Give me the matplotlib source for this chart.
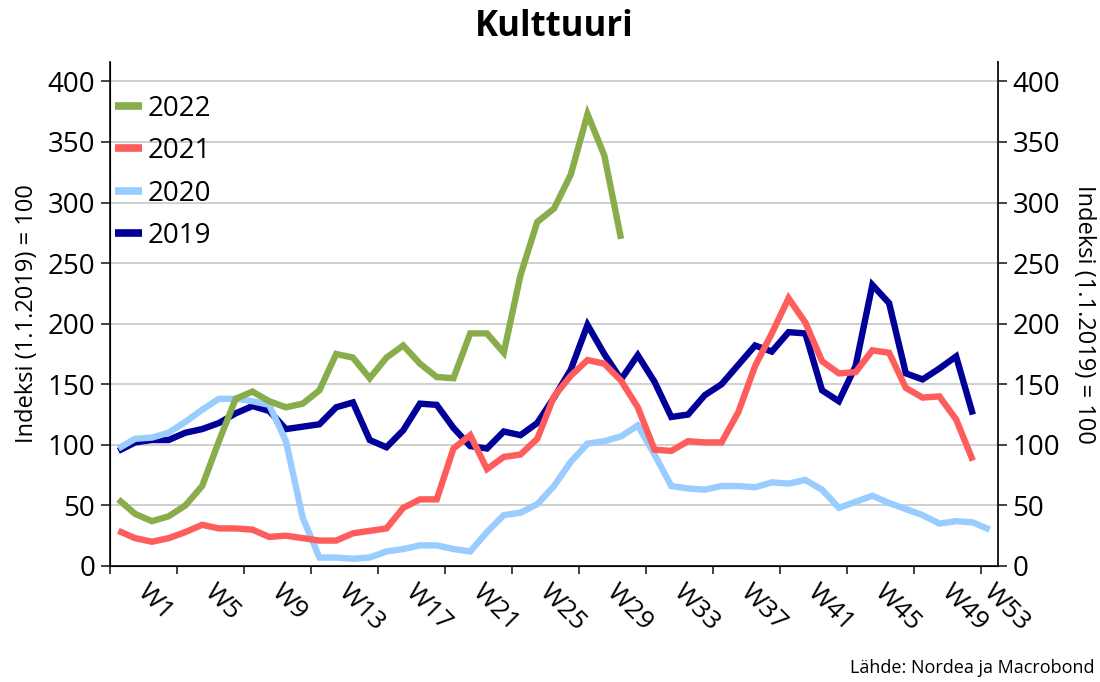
import matplotlib
matplotlib.use("Agg")
import matplotlib.pyplot as plt
from matplotlib.lines import Line2D

plt.rcParams['font.family'] = ['Open Sans', 'Noto Sans', 'DejaVu Sans']

# ---- data ----
y2019 = [95, 102, 104, 104, 110, 113, 118, 126, 132, 128, 113, 115, 117, 131, 135, 104,
         98, 112, 134, 133, 114, 99, 97, 111, 108, 118, 139, 162, 199, 175, 154, 174,
         152, 123, 125, 141, 150, 166, 182, 177, 193, 192, 145, 136, 165, 232, 217, 159,
         154, 163, 173, 125]
y2020 = [97, 105, 106, 110, 119, 129, 138, 138, 136, 133, 103, 40, 7, 7, 6, 7,
         12, 14, 17, 17, 14, 12, 28, 42, 44, 51, 66, 86, 101, 103, 107, 116,
         92, 66, 64, 63, 66, 66, 65, 69, 68, 71, 63, 48, 53, 58, 52, 47,
         42, 35, 37, 36, 30]
y2021 = [29, 23, 20, 23, 28, 34, 31, 31, 30, 24, 25, 23, 21, 21, 27, 29,
         31, 48, 55, 55, 97, 108, 80, 90, 92, 105, 140, 157, 170, 167, 153, 131,
         96, 95, 103, 102, 102, 127, 165, 192, 221, 201, 169, 159, 160, 178, 176, 147,
         139, 140, 121, 87]
y2022 = [55, 43, 37, 41, 50, 66, 103, 138, 144, 136, 131, 134, 145, 175, 172, 155,
         172, 182, 167, 156, 155, 192, 192, 176, 240, 284, 295, 323, 373, 339, 270]

series = [("2022", y2022, "#8aad4b"),
          ("2021", y2021, "#ff5c5c"),
          ("2020", y2020, "#99ccff"),
          ("2019", y2019, "#000099")]

week_labels = ["W1", "W5", "W9", "W13", "W17", "W21", "W25", "W29", "W33",
               "W37", "W41", "W45", "W49", "W53"]
label_pos = [1.9 + 4 * k for k in range(13)] + [52.4]
yticks = list(range(0, 401, 50))

# ---- figure ----
fig = plt.figure(figsize=(11, 6.82), dpi=100)
ax = fig.add_axes([110 / 1100, 1 - 566 / 682, 888 / 1100, 504 / 682])

for name, vals, col in series[::-1]:
    ax.plot(range(len(vals)), vals, color=col, lw=4.6, solid_joinstyle='miter',
            solid_capstyle='butt', zorder=3)

ax.set_xlim(-0.5, 52.5)
ax.set_ylim(0, 416)
ax.set_yticks(yticks)
ax.grid(axis='y', color='#cccccc', lw=1.3, zorder=0)
ax.set_axisbelow(True)
ax.set_xticks([-0.5 + 4 * k for k in range(14)])
ax.set_xticklabels([])
ax.tick_params(axis='x', direction='out', length=6, width=1.2, color='#222222')
ax.tick_params(axis='y', direction='out', length=6.5, width=1.2, color='#222222',
               labelsize=20, pad=4)
ax.spines['top'].set_visible(False)
for s in ['left', 'bottom', 'right']:
    ax.spines[s].set_linewidth(1.3)
    ax.spines[s].set_color('#222222')

ax2 = ax.twinx()
ax2.set_ylim(0, 416)
ax2.set_yticks(yticks)
ax2.tick_params(axis='y', direction='out', length=6.5, width=1.2, color='#222222',
                labelsize=20, pad=4)
ax2.spines['top'].set_visible(False)
ax2.spines['right'].set_linewidth(1.3)
ax2.spines['right'].set_color('#222222')

for lab, xp in zip(week_labels, label_pos):
    ax.annotate(lab, xy=(xp, 0), xycoords=('data', 'axes fraction'),
                xytext=(0, -10), textcoords='offset points',
                rotation=-45, rotation_mode='anchor', ha='left', va='top',
                fontsize=19, color='black')

ax.set_ylabel("Indeksi (1.1.2019) = 100", fontsize=17, labelpad=6)
ax2.set_ylabel("Indeksi (1.1.2019) = 100", fontsize=17, rotation=-90, labelpad=26)

handles = [Line2D([], [], color=c, lw=5.5, solid_capstyle='butt') for _, _, c in series]
ax.legend(handles, [n for n, _, _ in series], loc='upper left',
          bbox_to_anchor=(0.006, 0.935), frameon=False, fontsize=20,
          handlelength=0.95, handletextpad=0.2, labelspacing=0.52, borderpad=0,
          borderaxespad=0)

fig.text(554 / 1100, 1 - 27 / 682, "Kulttuuri", ha='center', va='center',
         fontsize=25, fontweight='bold')
fig.text(1095 / 1100, 1 - 668 / 682, "Lähde: Nordea ja Macrobond", ha='right',
         va='center', fontsize=13)

fig.savefig("out.png", dpi=100)
